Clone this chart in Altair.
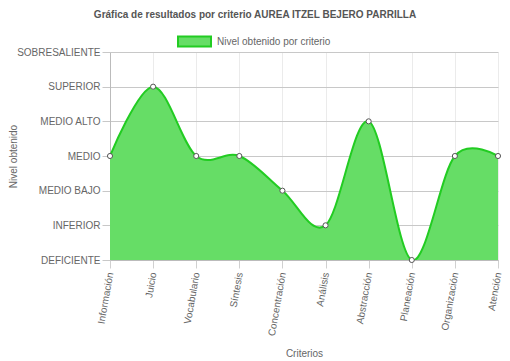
import json
import altair as alt
import pandas as pd

criterios = ["Información", "Juicio", "Vocabulario", "Síntesis", "Concentración",
             "Análisis", "Abstracción", "Planeación", "Organización", "Atención"]
niveles = ["DEFICIENTE", "INFERIOR", "MEDIO BAJO", "MEDIO", "MEDIO ALTO",
           "SUPERIOR", "SOBRESALIENTE"]
valores = [3, 5, 3, 3, 2, 1, 4, 0, 3, 3]
serie = "Nivel obtenido por criterio"

df = pd.DataFrame({"criterio": criterios, "nivel": valores, "serie": [serie] * len(criterios)})

FONT = "Liberation Sans"
FILL = "#66dd66"
LINE = "#22cc22"
TXT = "#666666"

x = alt.X("criterio:N", sort=criterios, title="Criterios",
          scale=alt.Scale(type="point", padding=0),
          axis=alt.Axis(labelAngle=280, labelAlign="right", labelBaseline="middle",
                        labelPadding=4, tickSize=8, tickColor="#d0d0d0",
                        domainColor="#bbbbbb", grid=True, gridColor="#ebebeb",
                        labelColor=TXT, labelFontSize=10, labelFont=FONT,
                        titleFont=FONT, titleFontSize=10, titleColor=TXT,
                        titleFontWeight="normal", titleY=88, labelOverlap=False))
y = alt.Y("nivel:Q", title="Nivel obtenido",
          scale=alt.Scale(domain=[0, 6], nice=False),
          axis=alt.Axis(values=list(range(7)),
                        labelExpr=json.dumps(niveles) + "[datum.value]",
                        tickSize=8, tickColor="#c8c8c8", domainColor="#bbbbbb",
                        grid=True, gridColor="#c8c8c8", labelPadding=2,
                        labelColor=TXT, labelFontSize=10, labelFont=FONT,
                        titleFont=FONT, titleFontSize=10, titleColor=TXT,
                        titleFontWeight="normal", titleX=-92))

color = alt.Color("serie:N", scale=alt.Scale(domain=[serie], range=[FILL]),
                  legend=alt.Legend(title=None, orient="none", legendX=67, legendY=-28,
                                    symbolType="M-1,-0.3H1V0.3H-1Z", symbolSize=1089,
                                    symbolStrokeColor=LINE, symbolStrokeWidth=2,
                                    symbolOpacity=1, labelFont=FONT, labelFontSize=10,
                                    labelColor=TXT, labelOffset=5))

base = alt.Chart(df)
area = base.mark_area(interpolate="cardinal", tension=0, opacity=1, clip=True).encode(
    x=x, y=y, color=color)
line = base.mark_line(interpolate="cardinal", tension=0, color=LINE, strokeWidth=2,
                      clip=True).encode(x=x, y=y)
points = base.mark_point(filled=True, fill="white", stroke="#555555", strokeWidth=1,
                         size=26, opacity=1).encode(x=x, y=y)

chart = (area + line + points).properties(
    width=388, height=208,
    title=alt.TitleParams("Gráfica de resultados por criterio AUREA ITZEL BEJERO PARRILLA",
                          font=FONT, fontSize=10, fontWeight="bold", color="#555555",
                          anchor="middle", dx=-49, offset=4),
    padding={"left": 102, "top": 44, "right": 4, "bottom": 99},
    autosize=alt.AutoSizeParams(type="none"),
).configure_view(stroke=None)

chart.save("out.html", embed_options={"renderer": "svg", "actions": False})
